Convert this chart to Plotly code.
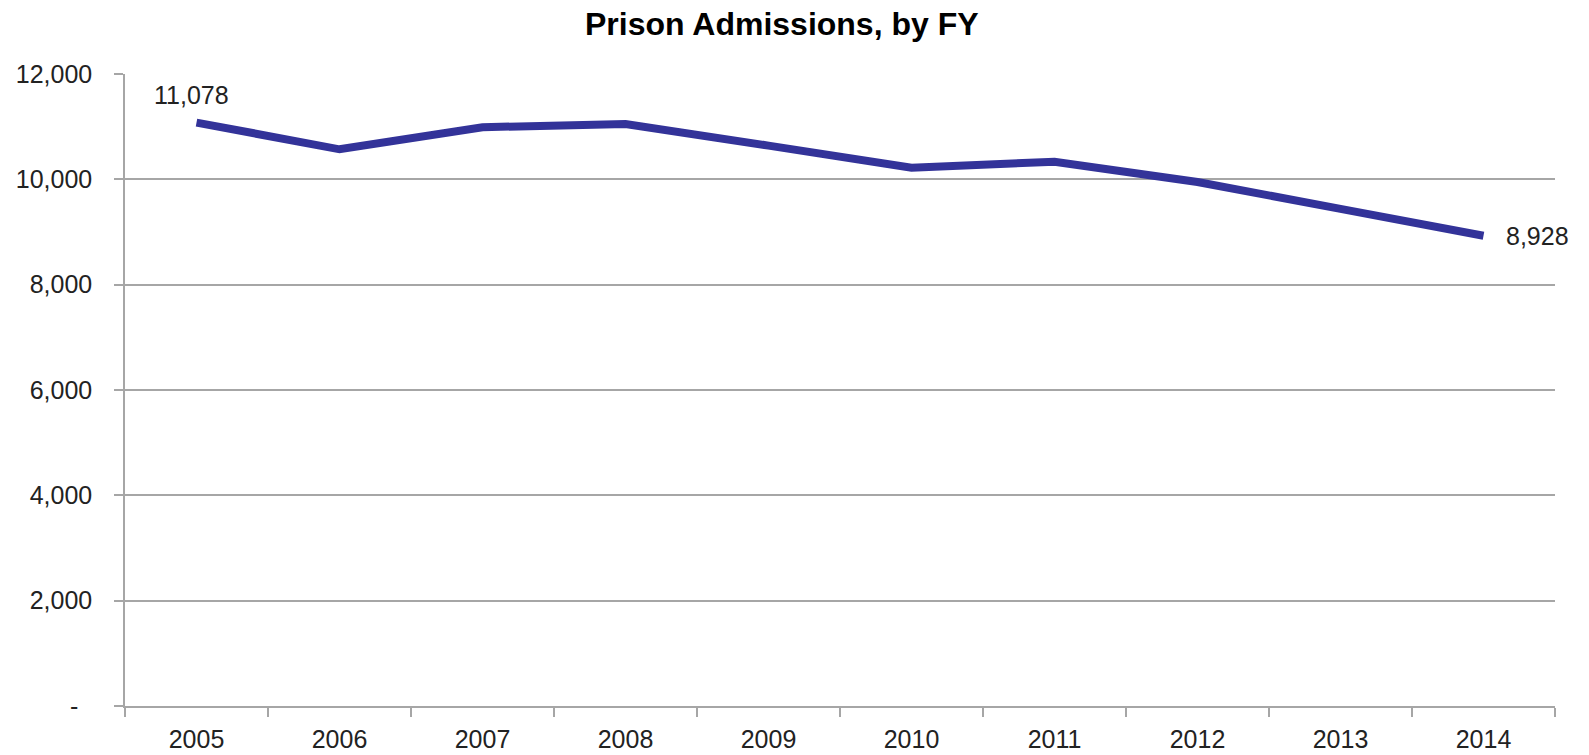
import plotly.graph_objects as go

years = ["2005", "2006", "2007", "2008", "2009", "2010", "2011", "2012", "2013", "2014"]
admissions = [11078, 10570, 10990, 11050, 10640, 10222, 10335, 9950, 9440, 8928]
first_label = "11,078"
last_label = "8,928"

y_tickvals = [0, 2000, 4000, 6000, 8000, 10000, 12000]
y_ticktext = ["-\u00a0\u00a0", "2,000", "4,000", "6,000", "8,000", "10,000", "12,000"]

FONT = "Liberation Sans, Arial, sans-serif"
GRID = "#a6a6a6"
TXT = "#222222"

fig = go.Figure()
fig.add_trace(go.Scatter(
    x=years, y=admissions,
    mode="lines",
    line=dict(color="#333399", width=8),
    hoverinfo="x+y",
    showlegend=False,
))

# category axes: annotation x is the category index
fig.add_annotation(x=0, y=admissions[0], text=first_label, showarrow=False,
                   xref="x", yref="y",
                   xanchor="center", yanchor="bottom", xshift=-5, yshift=12,
                   font=dict(family=FONT, size=25, color=TXT))
fig.add_annotation(x=len(years) - 1, y=admissions[-1], text=last_label, showarrow=False,
                   xref="x", yref="y",
                   xanchor="left", yanchor="middle", xshift=20, yshift=0,
                   font=dict(family=FONT, size=25, color=TXT))

fig.update_layout(
    width=1589, height=755,
    margin=dict(l=125, r=34, t=74, b=49),
    paper_bgcolor="white", plot_bgcolor="white",
    font=dict(family=FONT, size=25, color=TXT),
    title=dict(text="<b>Prison Admissions, by FY</b>", x=0.492, xanchor="center",
               y=0.968, yanchor="middle",
               font=dict(family=FONT, size=32, color="#000000")),
    xaxis=dict(
        type="category", range=[-0.5, 9.5], automargin=False,
        showgrid=False, showline=True, linecolor=GRID, linewidth=1.5,
        ticks="outside", tickson="boundaries", ticklen=9, tickcolor=GRID, tickwidth=1.5,
        ticklabelstandoff=10,
        tickfont=dict(family=FONT, size=25, color=TXT),
    ),
    yaxis=dict(
        range=[0, 12000], tickvals=y_tickvals, ticktext=y_ticktext, automargin=False,
        showgrid=True, gridcolor=GRID, gridwidth=1.5,
        zeroline=False,
        showline=True, linecolor=GRID, linewidth=1.5,
        ticks="outside", ticklen=9, tickcolor=GRID, tickwidth=1.5,
        ticklabelstandoff=17,
        tickfont=dict(family=FONT, size=25, color=TXT),
    ),
)

fig.write_html("out.html")
